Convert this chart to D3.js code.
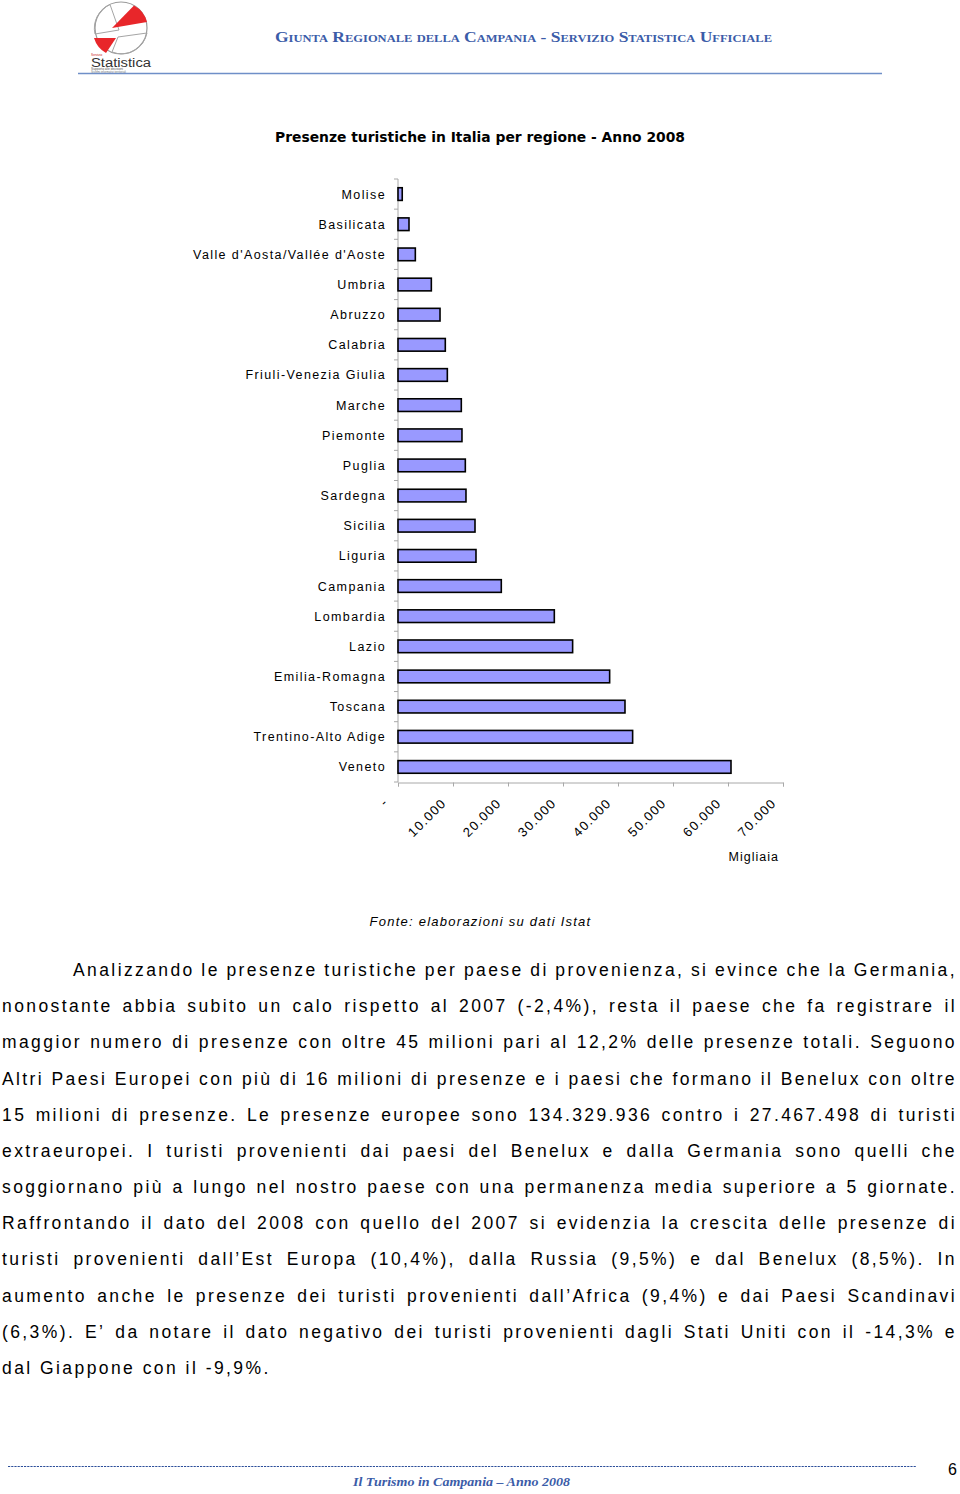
<!DOCTYPE html>
<html>
<head>
<meta charset="utf-8">
<script src="https://cdn.jsdelivr.net/npm/d3@7"></script>
<style>
  html, body { margin: 0; padding: 0; background: #fff; }
  svg { display: block; }
</style>
</head>
<body>
<svg id="page" width="960" height="1494"></svg>
<script>
// ---------------- DATA ----------------
const regions = [
  "Molise", "Basilicata", "Valle d'Aosta/Vallée d'Aoste", "Umbria", "Abruzzo",
  "Calabria", "Friuli-Venezia Giulia", "Marche", "Piemonte", "Puglia",
  "Sardegna", "Sicilia", "Liguria", "Campania", "Lombardia",
  "Lazio", "Emilia-Romagna", "Toscana", "Trentino-Alto Adige", "Veneto"
];
// presenze 2008, migliaia
const presenze = [
  770, 2000, 3150, 6060, 7640,
  8600, 8970, 11510, 11630, 12240,
  12360, 14000, 14180, 18780, 28420,
  31750, 38480, 41270, 42660, 60545
];
const xTicks = [0, 10000, 20000, 30000, 40000, 50000, 60000, 70000];
const xTickLabels = ["-", "10.000", "20.000", "30.000", "40.000", "50.000", "60.000", "70.000"];

const chartTitle = "Presenze turistiche in Italia per regione - Anno 2008";
const unitLabel = "Migliaia";
const sourceNote = "Fonte: elaborazioni su dati Istat";
const headerText = "Giunta Regionale della Campania - Servizio Statistica Ufficiale";
const footerText = "Il Turismo in Campania \u2013 Anno 2008";
const pageNumber = "6";

const paragraphLines = [
  "Analizzando le presenze turistiche per paese di provenienza, si evince che la Germania,",
  "nonostante abbia subito un calo rispetto al 2007 (-2,4%), resta il paese che fa registrare il",
  "maggior numero di presenze con oltre 45 milioni pari al 12,2% delle presenze totali. Seguono",
  "Altri Paesi Europei con più di 16 milioni di presenze e i paesi che formano il Benelux con oltre",
  "15 milioni di presenze. Le presenze europee sono 134.329.936 contro i 27.467.498 di turisti",
  "extraeuropei. I turisti provenienti dai paesi del Benelux e dalla Germania sono quelli che",
  "soggiornano più a lungo nel nostro paese con una permanenza media superiore a 5 giornate.",
  "Raffrontando il dato del 2008 con quello del 2007 si evidenzia la crescita delle presenze di",
  "turisti provenienti dall\u2019Est Europa (10,4%), dalla Russia (9,5%) e dal Benelux (8,5%). In",
  "aumento anche le presenze dei turisti provenienti dall\u2019Africa (9,4%) e dai Paesi Scandinavi",
  "(6,3%). E\u2019 da notare il dato negativo dei turisti provenienti dagli Stati Uniti con il -14,3% e",
  "dal Giappone con il -9,9%."
];

// ---------------- DRAW ----------------
const svg = d3.select("#page");
const sans = "'Liberation Sans', Arial, sans-serif";
const serif = "'Liberation Serif', 'Times New Roman', serif";
const blue = "#3b5ca8";

// ---- Header / logo ----
const logo = svg.append("g").attr("class", "logo");
logo.append("circle").attr("cx", 121).attr("cy", 28).attr("r", 26)
  .attr("fill", "none").attr("stroke", "#9a9a9a").attr("stroke-width", 1.2);
logo.append("path").attr("d", "M119,30 L95,34 A26,26 0 0 1 110,4.5 Z")
  .attr("fill", "none").attr("stroke", "#a5a5a5").attr("stroke-width", 1);
logo.append("path").attr("d", "M112,28 L134,5.5 A26,26 0 0 1 147,22 Z")
  .attr("fill", "#e8262a");
logo.append("path").attr("d", "M94,38 L116,38 L106,53 Q97,48 94,38 Z")
  .attr("fill", "#e8262a");
logo.append("path").attr("d", "M118,37 L147,33 A26,26 0 0 1 112,52 Z")
  .attr("fill", "none").attr("stroke", "#a5a5a5").attr("stroke-width", 1);
logo.append("text").attr("x", 91).attr("y", 66.5).text("Statistica")
  .attr("font-family", sans).attr("font-size", 12).attr("fill", "#333")
  .attr("textLength", 60).attr("lengthAdjust", "spacingAndGlyphs");
logo.append("text").attr("x", 91).attr("y", 70).text("Supporto alle decisioni")
  .attr("font-family", sans).attr("font-size", 3.2).attr("fill", "#555");
logo.append("text").attr("x", 91).attr("y", 73).text("Sistemi informativi territoriali")
  .attr("font-family", sans).attr("font-size", 2.8).attr("fill", "#777");
logo.append("text").attr("x", 91).attr("y", 55.5).text("Servizio")
  .attr("font-family", sans).attr("font-size", 3.2).attr("fill", "#c22");

svg.append("text").attr("x", 523.5).attr("y", 42).text(headerText)
  .attr("text-anchor", "middle")
  .attr("font-family", serif).attr("font-weight", "bold")
  .attr("font-size", 14).attr("font-variant", "small-caps")
  .attr("fill", blue)
  .attr("textLength", 497).attr("lengthAdjust", "spacingAndGlyphs");

svg.append("line").attr("x1", 78).attr("x2", 882).attr("y1", 73.5).attr("y2", 73.5)
  .attr("stroke", "#6f8fc8").attr("stroke-width", 1.5);

// ---- Title ----
svg.append("text").attr("x", 480).attr("y", 142).text(chartTitle)
  .attr("text-anchor", "middle")
  .attr("font-family", "'DejaVu Sans', Verdana, sans-serif").attr("font-weight", "bold")
  .attr("font-size", 13.5).attr("fill", "#000")
  .attr("textLength", 410).attr("lengthAdjust", "spacingAndGlyphs");

// ---- Chart ----
const x = d3.scaleLinear().domain([0, 70000]).range([398, 783]);
const y = d3.scaleBand().domain(regions).range([179, 782])
  .paddingInner(0.58).paddingOuter(0.29);

const axisColor = "#a8a8a8";

// vertical axis line & category tick marks
svg.append("line").attr("x1", x(0)).attr("x2", x(0)).attr("y1", 179).attr("y2", 782)
  .attr("stroke", axisColor).attr("stroke-width", 1);
const step = y.step();
const boundaries = d3.range(regions.length + 1).map(i => 179 + i * step);
svg.append("g").selectAll("line").data(boundaries).join("line")
  .attr("x1", x(0) - 4).attr("x2", x(0)).attr("y1", d => d).attr("y2", d => d)
  .attr("stroke", axisColor).attr("stroke-width", 1);

// horizontal axis
const xAxis = d3.axisBottom(x).tickValues(xTicks).tickSize(4).tickFormat("");
const gx = svg.append("g").attr("transform", "translate(0,782.5)").call(xAxis);
gx.select(".domain").attr("stroke", axisColor);
gx.selectAll(".tick line").attr("stroke", axisColor);

// tick labels, rotated
svg.append("g").selectAll("text").data(xTicks).join("text")
  .attr("transform", (d, i) => `translate(${x(d) - (i === 0 ? 9 : 6)},${i === 0 ? 803 : 804}) rotate(-45)`)
  .attr("text-anchor", "end")
  .attr("font-family", sans).attr("font-size", 13)
  .attr("letter-spacing", 1.3)
  .attr("fill", "#000")
  .text((d, i) => xTickLabels[i]);

svg.append("text").attr("x", 779).attr("y", 861).text(unitLabel)
  .attr("text-anchor", "end")
  .attr("font-family", sans).attr("font-size", 12.5).attr("letter-spacing", 1)
  .attr("fill", "#000");

// bars
svg.append("g").selectAll("rect").data(regions).join("rect")
  .attr("x", x(0))
  .attr("y", d => y(d))
  .attr("width", (d, i) => x(presenze[i]) - x(0))
  .attr("height", y.bandwidth())
  .attr("fill", "#9999ff")
  .attr("stroke", "#000").attr("stroke-width", 1.6);

// category labels
svg.append("g").selectAll("text").data(regions).join("text")
  .attr("x", 386)
  .attr("y", d => y(d) + y.bandwidth() / 2 + 4.5)
  .attr("text-anchor", "end")
  .attr("font-family", sans).attr("font-size", 12.5)
  .attr("letter-spacing", 1.4)
  .attr("fill", "#000")
  .text(d => d);

// source note
svg.append("text").attr("x", 480.5).attr("y", 926).text(sourceNote)
  .attr("text-anchor", "middle")
  .attr("font-family", sans).attr("font-style", "italic").attr("font-size", 13)
  .attr("letter-spacing", 1.25).attr("fill", "#000");

// ---- Paragraph (justified) ----
const paraFont = { family: sans, size: 17.5, spacing: 2.4 };
const baseline0 = 976, lineGap = 36.18, leftX = 2, rightX = 957, indentX = 73;
const para = svg.append("g");
paragraphLines.forEach((line, li) => {
  const words = line.split(/\s+/);
  const by = baseline0 + li * lineGap;
  const x0 = li === 0 ? indentX : leftX;
  const texts = words.map(w => para.append("text")
    .attr("y", by)
    .attr("font-family", paraFont.family).attr("font-size", paraFont.size)
    .attr("letter-spacing", paraFont.spacing)
    .attr("fill", "#000").text(w));
  const widths = texts.map(t => t.node().getComputedTextLength());
  const total = d3.sum(widths);
  const last = li === paragraphLines.length - 1;
  const gap = last ? 7.5 : (rightX - x0 - total) / (words.length - 1);
  let cx = x0;
  texts.forEach((t, i) => { t.attr("x", cx); cx += widths[i] + gap; });
});

// ---- Footer ----
svg.append("line").attr("x1", 8).attr("x2", 916).attr("y1", 1466.5).attr("y2", 1466.5)
  .attr("stroke", "#2d4f9a").attr("stroke-width", 1.2).attr("stroke-dasharray", "2.2,1");
svg.append("text").attr("x", 957).attr("y", 1475).text(pageNumber)
  .attr("text-anchor", "end")
  .attr("font-family", sans).attr("font-size", 16).attr("fill", "#000");
svg.append("text").attr("x", 461.5).attr("y", 1486).text(footerText)
  .attr("text-anchor", "middle")
  .attr("font-family", serif).attr("font-style", "italic").attr("font-weight", "bold")
  .attr("font-size", 13.5).attr("fill", blue)
  .attr("textLength", 217).attr("lengthAdjust", "spacingAndGlyphs");
</script>
</body>
</html>
